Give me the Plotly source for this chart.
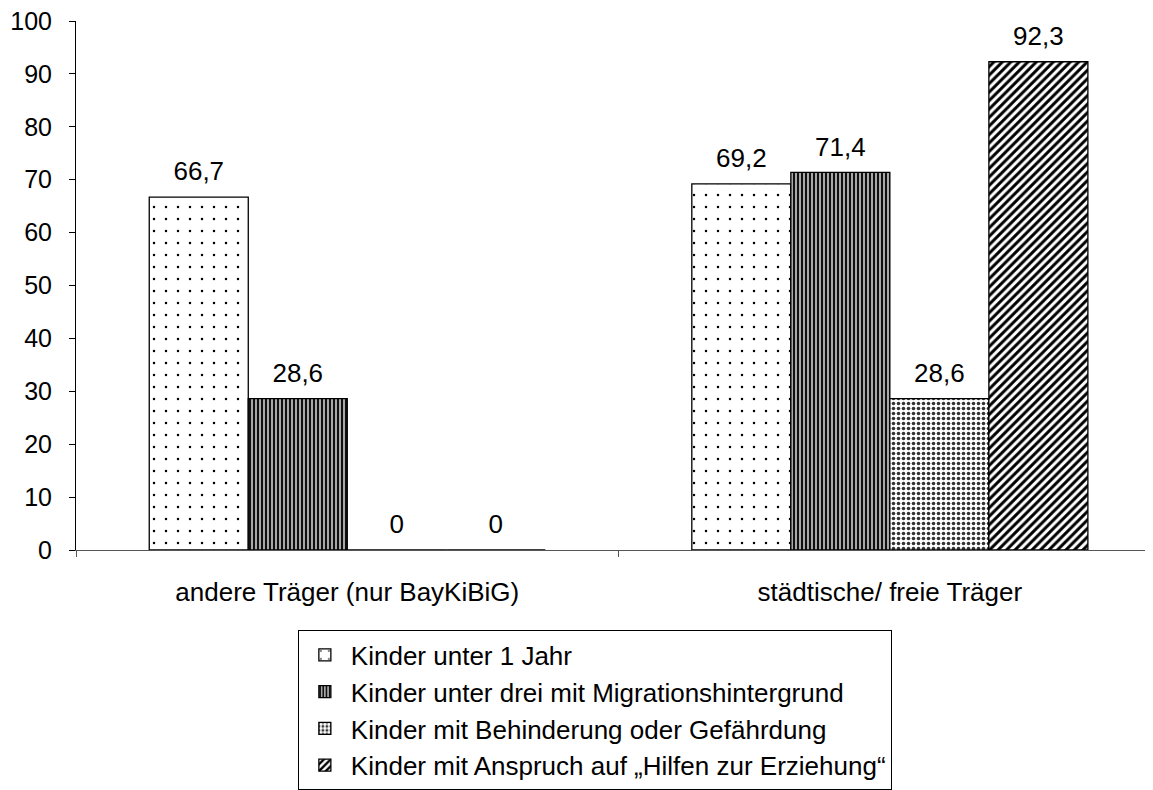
import plotly.graph_objects as go

categories = ["andere Träger (nur BayKiBiG)", "städtische/ freie Träger"]
series_names = [
    "Kinder unter 1 Jahr",
    "Kinder unter drei mit Migrationshintergrund",
    "Kinder mit Behinderung oder Gefährdung",
    "Kinder mit Anspruch auf „Hilfen zur Erziehung“",
]
series_values = [
    [66.7, 69.2],
    [28.6, 71.4],
    [0, 28.6],
    [0, 92.3],
]
y_ticks = [0, 10, 20, 30, 40, 50, 60, 70, 80, 90, 100]

patterns = [
    dict(shape=".", size=12, solidity=0.035, fgcolor="#000000", bgcolor="#ffffff", fillmode="replace"),
    dict(shape="|", size=4, solidity=0.5, fgcolor="#111111", bgcolor="#a8a8a8", fillmode="replace"),
    dict(shape=".", size=5, solidity=0.4, fgcolor="#333333", bgcolor="#ffffff", fillmode="replace"),
    dict(shape="/", size=6, solidity=0.5, fgcolor="#000000", bgcolor="#ffffff", fillmode="replace"),
]

FONT = "Liberation Sans, Arial, sans-serif"

def fmt(v):
    s = f"{v:g}".replace(".", ",")
    return f"<span style='font-size:26px'>{s}</span><br> "

fig = go.Figure()
for name, vals, pat in zip(series_names, series_values, patterns):
    fig.add_trace(go.Bar(
        name=name,
        x=categories,
        y=vals,
        text=[fmt(v) for v in vals],
        textposition="outside",
        cliponaxis=False,
        textfont=dict(family=FONT, size=9, color="#000000"),
        marker=dict(color="#ffffff", pattern=pat, line=dict(color="#000000", width=1.3)),
    ))

# page body has an 8px default margin; compensate so the plot lands where intended
fig.update_layout(
    width=1145,
    height=782,
    barmode="group",
    bargap=0.27,
    bargroupgap=0,
    plot_bgcolor="#ffffff",
    paper_bgcolor="#ffffff",
    font=dict(family=FONT, size=26, color="#000000"),
    margin=dict(l=68, r=0, t=13, b=240, autoexpand=False),
    showlegend=True,
    legend=dict(
        x=0.206, y=-0.152, xanchor="left", yanchor="top",
        bordercolor="#000000", borderwidth=1,
        bgcolor="#ffffff",
        font=dict(family=FONT, size=26, color="#000000"),
        tracegroupgap=0,
        itemwidth=42,
    ),
)
fig.update_xaxes(
    range=[-0.5, 1.485],
    automargin=False,
    showline=True, linecolor="#555555", linewidth=1,
    ticks="outside", tickson="boundaries", ticklen=6, tickcolor="#555555",
    showgrid=False, zeroline=False,
    ticklabelstandoff=19,
    tickfont=dict(family=FONT, size=26, color="#000000"),
)
fig.update_yaxes(
    range=[0, 100],
    automargin=False,
    ticklabeloverflow="allow",
    tickvals=y_ticks,
    showline=True, linecolor="#000000", linewidth=1,
    ticks="outside", ticklen=6, tickcolor="#000000",
    showgrid=False, zeroline=False,
    ticklabelstandoff=12,
    tickfont=dict(family=FONT, size=25, color="#000000"),
)

fig.write_html("out.html")
